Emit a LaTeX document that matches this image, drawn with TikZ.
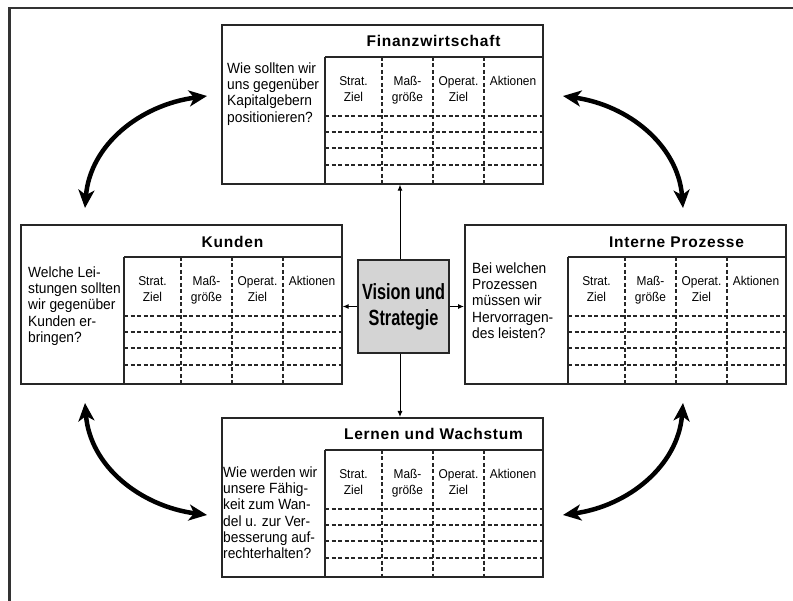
\documentclass[tikz,border=0pt]{standalone}
\usepackage{fontspec}
\setmainfont{Liberation Sans}
\newfontfamily\qfont[FakeStretch=0.93]{Liberation Sans}
\newfontfamily\tfont[LetterSpace=5]{Liberation Sans}
\newfontfamily\vfont[FakeStretch=0.74]{Liberation Sans}
\usetikzlibrary{calc,arrows.meta}
\tikzset{
  panel/.style={draw=black!85, line width=1.6pt, minimum width=321pt, minimum height=159pt, inner sep=0pt, anchor=north west},
  gridline/.style={draw=black!85, line width=1.4pt},
  dashline/.style={draw=black!85, line width=1.4pt, dash pattern=on 4pt off 2.5pt},
  question/.style={anchor=north west, inner sep=0pt, align=left, font=\qfont\fontsize{14.8}{16.2}\selectfont},
  colhead/.style={anchor=north, inner sep=0pt, align=center, font=\qfont\fontsize{12.8}{16.5}\selectfont},
  paneltitle/.style={inner sep=0pt, font=\tfont\bfseries\fontsize{15.5}{18}\selectfont},
  vision/.style={draw=black!85, line width=1.6pt, fill=black!17, minimum width=91pt, minimum height=93pt, inner sep=0pt, align=center, font=\vfont\bfseries\fontsize{22}{26}\selectfont},
  thinarrow/.style={draw=black, line width=1pt, -{Latex[length=6pt,width=5pt]}},
  bigarrow/.style={draw=black, line width=4.5pt, {Stealth[length=18pt,width=16pt,inset=5pt]}-{Stealth[length=18pt,width=16pt,inset=5pt]}},
  frameline/.style={draw=black!80, line width=2.5pt}
}
\newcommand\panelgrid[1]{%
  \draw[gridline] ($(#1.north west)+(104,33)$) -- ($(#1.north east)+(0,33)$);
  \draw[gridline] ($(#1.north west)+(104,33)$) -- ($(#1.south west)+(104,0)$);
  \foreach \xx in {161,212,263} \draw[dashline] ($(#1.north west)+(\xx,33)$) -- ($(#1.south west)+(\xx,0)$);
  \foreach \yy in {92,108,124,141} \draw[dashline] ($(#1.north west)+(104,\yy)$) -- ($(#1.north east)+(0,\yy)$);
  \node[colhead] (#1c1) at ($(#1.north west)+(132.5,52)$) {Strat.\\Ziel};
  \node[colhead] (#1c2) at ($(#1.north west)+(186.5,52)$) {Maß-\\größe};
  \node[colhead] (#1c3) at ($(#1.north west)+(237.5,52)$) {Operat.\\Ziel};
  \node[colhead] (#1c4) at ($(#1.north west)+(292,52)$) {Aktionen};
}
\begin{document}
\begin{tikzpicture}[x=1pt,y=-1pt]
\useasboundingbox (0,0) rectangle (793,601);
\draw[frameline] (9.5,601) -- (9.5,8) -- (793,8);

% panels
\node[panel] (fin) at (221,24) {};
\node[panel] (kun) at (20,224) {};
\node[panel] (int) at (464,224) {};
\node[panel] (ler) at (221,417) {};
\panelgrid{fin}
\panelgrid{kun}
\panelgrid{int}
\panelgrid{ler}

% titles
\node[paneltitle] (fint) at ($(fin.north west)+(212.5,17)$) {Finanzwirtschaft};
\node[paneltitle] (kunt) at ($(kun.north west)+(212.5,18)$) {Kunden};
\node[paneltitle] (intt) at ($(int.north west)+(212.5,18)$) {Interne Prozesse};
\node[paneltitle] (lert) at ($(ler.north west)+(212.5,17)$) {Lernen und Wachstum};

% questions
\node[question] (finq) at ($(fin.north west)+(6,38.5)$) {Wie sollten wir\\uns gegenüber\\Kapitalgebern\\positionieren?};
\node[question] (kunq) at ($(kun.north west)+(8,42.5)$) {Welche Lei-\\stungen sollten\\wir gegenüber\\Kunden er-\\bringen?};
\node[question] (intq) at ($(int.north west)+(8,38.5)$) {Bei welchen\\Prozessen\\müssen wir\\Hervorragen-\\des leisten?};
\node[question] (lerq) at ($(ler.north west)+(2,49.5)$) {Wie werden wir\\unsere Fähig-\\keit zum Wan-\\del u. zur Ver-\\besserung auf-\\rechterhalten?};

% center
\node[vision] (vis) at (403.5,306.5) {Vision und\\Strategie};
\coordinate (vn) at ($(vis.north)+(-3.5,0)$);
\coordinate (vs) at ($(vis.south)+(-3.5,0)$);
\draw[thinarrow] (vn) -- (vn |- fin.south);
\draw[thinarrow] (vs) -- (vs |- ler.north);
\draw[thinarrow] (vis.west) -- (vis.west -| kun.east);
\draw[thinarrow] (vis.east) -- (vis.east -| int.west);

% curved double arrows
\coordinate (tla) at (85,208);
\coordinate (tlb) at (207,96);
\coordinate (tra) at (683,208);
\coordinate (trb) at (563,96);
\coordinate (bla) at (85,403);
\coordinate (blb) at (207,515);
\coordinate (bra) at (683,403);
\coordinate (brb) at (563,515);
\draw[bigarrow] (tla) .. controls (90,145) and (140,105) .. (tlb);
\draw[bigarrow] (tra) .. controls (678,145) and (628,105) .. (trb);
\draw[bigarrow] (bla) .. controls (90,466) and (140,506) .. (blb);
\draw[bigarrow] (bra) .. controls (678,466) and (628,506) .. (brb);
\end{tikzpicture}
\end{document}
